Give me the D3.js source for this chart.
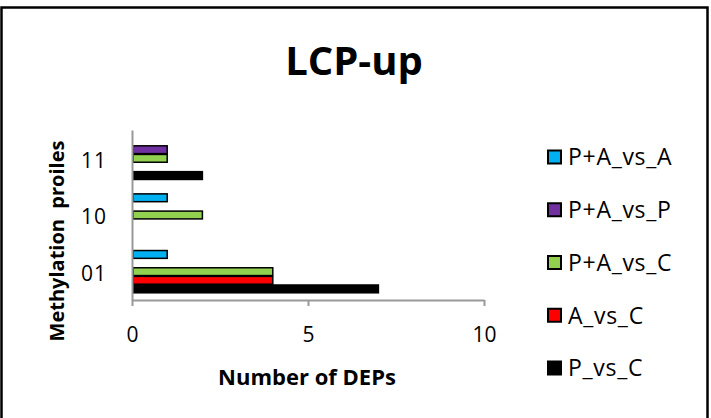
<!DOCTYPE html>
<html>
<head>
<meta charset="utf-8">
<script src="https://cdn.jsdelivr.net/npm/d3@7"></script>
<style>
  html, body { margin: 0; padding: 0; background: #fff; }
  svg { display: block; }
  text { font-family: "Open Sans", Lato, sans-serif; fill: #000; }
</style>
</head>
<body>
<svg id="chart" width="711" height="418"></svg>
<script>
// ---- data ----
const categories = ["11", "10", "01"];              // top to bottom
const seriesNames = ["P+A_vs_A", "P+A_vs_P", "P+A_vs_C", "A_vs_C", "P_vs_C"]; // top to bottom within group
const seriesColors = ["#00B0F0", "#7030A0", "#92D050", "#FF0000", "#000000"];
const valsPAvsA = [0, 1, 1];   // for 11, 10, 01
const valsPAvsP = [1, 0, 0];
const valsPAvsC = [1, 2, 4];
const valsAvsC  = [0, 0, 4];
const valsPvsC  = [2, 0, 7];
const xTicks = [0, 5, 10];
const titleText = "LCP-up";
const xTitle = "Number of DEPs";
const yTitle = "Methylation\u00a0 proiles";

const seriesValues = [valsPAvsA, valsPAvsP, valsPAvsC, valsAvsC, valsPvsC];

const svg = d3.select("#chart");

// outer frame
svg.append("rect")
  .attr("x", 1.5).attr("y", 7.5)
  .attr("width", 706).attr("height", 430)
  .attr("fill", "#fff").attr("stroke", "#000").attr("stroke-width", 2.5);

// scales
const x = d3.scaleLinear().domain([0, 10]).range([132, 484]);
const y0 = d3.scaleBand().domain(categories).range([130, 300])
  .paddingInner(0.24).paddingOuter(0.12);
const y1 = d3.scaleBand().domain(seriesNames).range([0, y0.bandwidth()]).padding(0);
const color = d3.scaleOrdinal().domain(seriesNames).range(seriesColors);

// title
svg.append("text")
  .attr("x", 354).attr("y", 75)
  .attr("text-anchor", "middle")
  .style("font-size", "40px").style("font-weight", "bold")
  .text(titleText);

// bars
const rows = [];
seriesNames.forEach((s, si) => {
  categories.forEach((c, ci) => {
    rows.push({ series: s, cat: c, value: seriesValues[si][ci] });
  });
});

svg.append("g").selectAll("rect")
  .data(rows.filter(d => d.value > 0))
  .join("rect")
  .attr("x", x(0) + 1)
  .attr("y", d => y0(d.cat) + y1(d.series) + 0.4)
  .attr("width", d => x(d.value) - x(0) - 1)
  .attr("height", y1.bandwidth() - 0.8)
  .attr("fill", d => color(d.series))
  .attr("stroke", "#000")
  .attr("stroke-width", 1.5);

// x axis
const xAxis = svg.append("g")
  .attr("transform", "translate(0,300)")
  .call(d3.axisBottom(x).tickValues(xTicks).tickSize(6).tickSizeOuter(0).tickPadding(21));
xAxis.select(".domain").attr("stroke", "#999").attr("stroke-width", 2);
xAxis.selectAll(".tick line").attr("stroke", "#999").attr("stroke-width", 2);
xAxis.selectAll(".tick text").style("font-size", "21px").style("font-family", "'Open Sans', sans-serif").attr("fill", "#000");

// y axis
const yAxis = svg.append("g")
  .attr("transform", "translate(132,0)")
  .call(d3.axisLeft(y0).tickSize(0).tickPadding(25));
yAxis.select(".domain").attr("stroke", "#999").attr("stroke-width", 2);
yAxis.selectAll(".tick text").style("font-size", "21px").style("font-family", "'Open Sans', sans-serif")
  .attr("fill", "#000").attr("dy", "0.45em").style("letter-spacing", "1px");

// axis titles
svg.append("text")
  .attr("x", 307).attr("y", 385)
  .attr("text-anchor", "middle")
  .style("font-size", "22px").style("font-weight", "bold")
  .text(xTitle);

svg.append("text")
  .attr("transform", "translate(64,241) rotate(-90)")
  .attr("text-anchor", "middle")
  .style("font-size", "20px").style("font-weight", "bold")
  .text(yTitle);

// legend
const legendY = d3.scalePoint().domain(seriesNames).range([157, 368]);
const lg = svg.append("g").selectAll("g").data(seriesNames).join("g")
  .attr("transform", d => `translate(548,${legendY(d)})`);
lg.append("rect")
  .attr("x", 0).attr("y", -6.5).attr("width", 13).attr("height", 13)
  .attr("fill", d => color(d)).attr("stroke", "#000").attr("stroke-width", 2);
lg.append("text")
  .attr("x", 20).attr("y", 0).attr("dy", "0.36em")
  .style("font-size", "23px").style("letter-spacing", "0.7px")
  .text(d => d);
</script>
</body>
</html>
